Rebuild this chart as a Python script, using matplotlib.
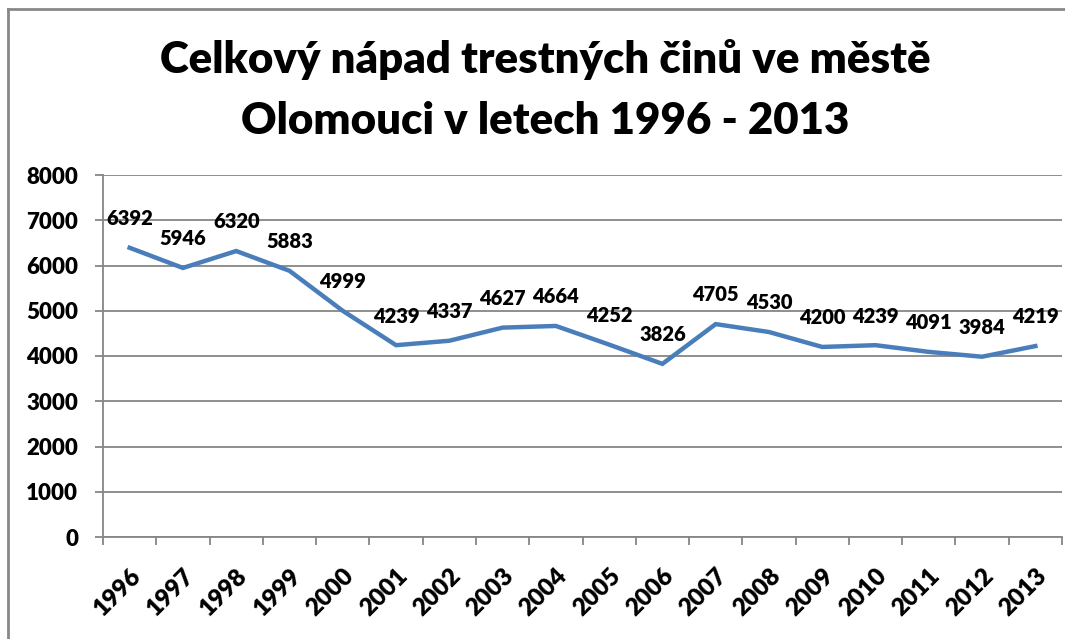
import numpy as np
import matplotlib.pyplot as plt
import matplotlib.transforms as mtransforms
from matplotlib.lines import Line2D

# data
years = [str(y) for y in range(1996, 2014)]
crimes = [6392, 5946, 6320, 5883, 4999, 4239, 4337, 4627, 4664,
          4252, 3826, 4705, 4530, 4200, 4239, 4091, 3984, 4219]
y_ticks = [0, 1000, 2000, 3000, 4000, 5000, 6000, 7000, 8000]
title = "Celkový nápad trestných činů ve městě\nOlomouci v letech 1996 - 2013"

plt.rcParams['font.family'] = ['Lato', 'DejaVu Sans']
W = "heavy"

fig = plt.figure(figsize=(10.65, 6.39), dpi=100)
ax = fig.add_axes([103 / 1065, 102 / 639, 959 / 1065, 362 / 639])

x = np.arange(len(years))
ax.plot(x, crimes, color="#4A7EBB", linewidth=3.2, solid_joinstyle="miter")

for xi, v in zip(x, crimes):
    ax.annotate(str(v), (xi, v), xytext=(0, 21), textcoords="offset points",
                ha="center", va="center", fontsize=14.5, fontweight=W)

ax.set_xlim(-0.5, len(years) - 0.5)
ax.set_ylim(0, 8000)
ax.set_yticks(y_ticks)
ax.set_yticklabels([str(t) for t in y_ticks], fontsize=16, fontweight=W)

# boundary ticks, labels at category centers
ax.set_xticks(np.arange(len(years) + 1) - 0.5)
ax.set_xticklabels([])
ax.set_xticks(x, minor=True)
ax.set_xticklabels(years, minor=True, rotation=45, ha="right",
                   rotation_mode="anchor", fontsize=17.5, fontweight=W)
shift = mtransforms.ScaledTranslation(-4 / 100, 0, fig.dpi_scale_trans)
for lbl in ax.get_xticklabels(minor=True):
    lbl.set_transform(lbl.get_transform() + shift)
ax.tick_params(axis="x", which="major", length=6, color="#868686", width=1.3)
ax.tick_params(axis="x", which="minor", length=0, pad=20)
ax.tick_params(axis="y", length=6, color="#868686", width=1.3, pad=12)

ax.grid(axis="y", color="#868686", linewidth=1.3)
ax.set_axisbelow(True)
for s in ["top", "right"]:
    ax.spines[s].set_visible(False)
for s in ["left", "bottom"]:
    ax.spines[s].set_color("#868686")
    ax.spines[s].set_linewidth(1.3)

fig.text(545 / 1065, 1 - 90 / 639, title, ha="center", va="center",
         fontsize=31.5, fontweight=W, linespacing=1.62)

# outer chart border (top and left visible)
fig.add_artist(Line2D([8 / 1065, 8 / 1065], [0, 1 - 9 / 639],
                      transform=fig.transFigure, color="#888888", linewidth=2))
fig.add_artist(Line2D([8 / 1065, 1], [1 - 9 / 639, 1 - 9 / 639],
                      transform=fig.transFigure, color="#888888", linewidth=2))

fig.savefig("out.png", dpi=100)
